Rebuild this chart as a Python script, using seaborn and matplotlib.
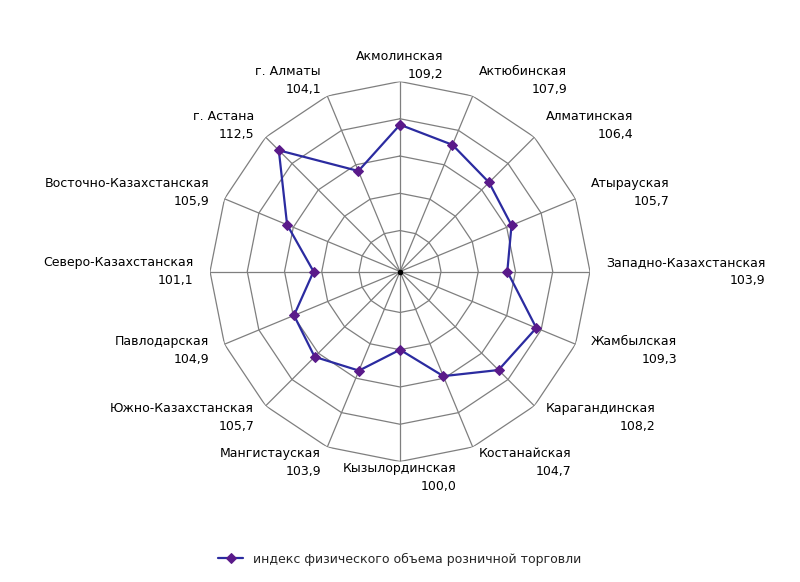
import numpy as np
import pandas as pd
import matplotlib
matplotlib.use("Agg")
import matplotlib.pyplot as plt
import seaborn as sns

regions = ["Акмолинская", "Актюбинская", "Алматинская", "Атырауская",
           "Западно-Казахстанская", "Жамбылская", "Карагандинская", "Костанайская",
           "Кызылординская", "Мангистауская", "Южно-Казахстанская", "Павлодарская",
           "Северо-Казахстанская", "Восточно-Казахстанская", "г. Астана", "г. Алматы"]
values = [109.2, 107.9, 106.4, 105.7, 103.9, 109.3, 108.2, 104.7,
          100.0, 103.9, 105.7, 104.9, 101.1, 105.9, 112.5, 104.1]
series_name = "индекс физического объема розничной торговли"
rmin, rmax, rstep = 90, 115, 5

sns.set_style("white")
plt.rcParams['font.family'] = ['DejaVu Sans']

n = len(regions)
theta = np.arange(n) * 2 * np.pi / n
df = pd.DataFrame({"theta": np.append(theta, 2*np.pi), "value": values + values[:1]})

fig = plt.figure(figsize=(8, 5.82), dpi=100)
ax = fig.add_axes([0.2625, 0.207, 0.475, 0.653], projection="polar")
ax.set_theta_zero_location("N")
ax.set_theta_direction(-1)
ax.set_ylim(rmin - 0.5, rmax)
ax.grid(False)
ax.spines["polar"].set_visible(False)
ax.set_xticks([]); ax.set_yticks([])

tt = np.append(theta, 2*np.pi)
for r in np.arange(rmin + rstep, rmax + 0.1, rstep):
    ax.plot(tt, [r]*len(tt), color="#7f7f7f", lw=0.9, zorder=1)
for t in theta:
    ax.plot([t, t], [rmin - 0.5, rmax], color="#7f7f7f", lw=0.9, zorder=1)

sns.lineplot(data=df, x="theta", y="value", ax=ax, sort=False, color="#2b2ba0",
             lw=1.6, marker="D", markersize=5, markerfacecolor="#5a1a8a",
             markeredgecolor="#5a1a8a", label=series_name, zorder=3)
ax.plot([0], [rmin - 0.5], marker="o", color="black", ms=3, zorder=4)

for t, name, v in zip(theta, regions, values):
    s = np.sin(t)
    ha = "center" if abs(s) < 0.2 else ("left" if s > 0 else "right")
    r = rmax + 2.2
    label = name + "\n" + f"{v:.1f}".replace(".", ",")
    ax.text(t, r, label, ha=ha, va="center", fontsize=9, linespacing=1.5,
            multialignment="right", color="black")

ax.legend(loc="upper center", bbox_to_anchor=(0.5, -0.21), frameon=False, fontsize=9)
fig.savefig("out.png", dpi=100)
